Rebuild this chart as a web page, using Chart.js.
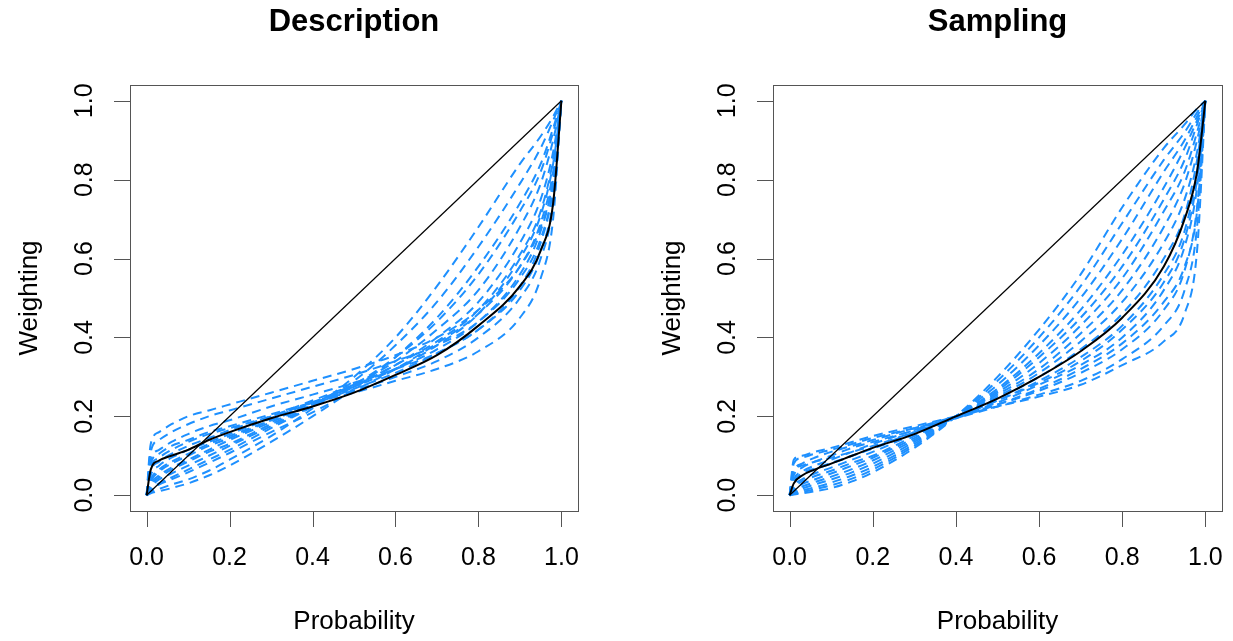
<!DOCTYPE html>
<html>
<head>
<meta charset="utf-8">
<script src="https://cdn.jsdelivr.net/npm/chart.js@4/dist/chart.umd.min.js"></script>
<style>
  html, body { margin: 0; padding: 0; background: #fff; }
  #wrap { position: relative; width: 1233px; height: 641px; }
  canvas { position: absolute; top: 0; }
</style>
</head>
<body>
<div id="wrap">
  <canvas id="desc" width="616" height="641" style="left:0px"></canvas>
  <canvas id="samp" width="617" height="641" style="left:616px"></canvas>
</div>
<script>
"use strict";

// probability grid that every curve is read at
const probs = [0, 0.01, 0.03, 0.06, 0.1, 0.15, 0.2, 0.3, 0.4, 0.5, 0.6, 0.7, 0.8, 0.9, 0.95, 0.98, 1];
const tickValues = [0, 0.2, 0.4, 0.6, 0.8, 1];
const tickLabels = ["0.0", "0.2", "0.4", "0.6", "0.8", "1.0"];
const diagX = [0, 1];
const diagY = [0, 1];

// Description panel
const descMean = [0, 0.065, 0.088, 0.10, 0.115, 0.14, 0.16, 0.195, 0.225, 0.26, 0.305, 0.355, 0.43, 0.53, 0.62, 0.74, 1];
const descCurves = [
    [0, 0.13, 0.16, 0.18, 0.20, 0.215, 0.23, 0.26, 0.29, 0.32, 0.355, 0.40, 0.47, 0.58, 0.68, 0.80, 1],
    [0, 0.11, 0.14, 0.16, 0.18, 0.20, 0.215, 0.245, 0.275, 0.305, 0.34, 0.38, 0.44, 0.55, 0.65, 0.78, 1],
    [0, 0.09, 0.115, 0.135, 0.155, 0.175, 0.19, 0.225, 0.255, 0.285, 0.32, 0.36, 0.42, 0.52, 0.62, 0.75, 1],
    [0, 0.08, 0.105, 0.125, 0.14, 0.16, 0.175, 0.205, 0.235, 0.26, 0.29, 0.32, 0.365, 0.45, 0.55, 0.70, 1],
    [0, 0.07, 0.095, 0.115, 0.135, 0.155, 0.17, 0.20, 0.235, 0.265, 0.30, 0.34, 0.40, 0.50, 0.60, 0.74, 1],
    [0, 0.06, 0.085, 0.105, 0.125, 0.145, 0.165, 0.20, 0.24, 0.28, 0.32, 0.37, 0.44, 0.56, 0.67, 0.80, 1],
    [0, 0.05, 0.075, 0.095, 0.115, 0.135, 0.155, 0.195, 0.235, 0.275, 0.32, 0.38, 0.46, 0.60, 0.71, 0.84, 1],
    [0, 0.04, 0.065, 0.085, 0.105, 0.13, 0.15, 0.19, 0.23, 0.27, 0.31, 0.36, 0.42, 0.53, 0.64, 0.78, 1],
    [0, 0.035, 0.06, 0.08, 0.10, 0.125, 0.145, 0.19, 0.235, 0.28, 0.33, 0.40, 0.49, 0.64, 0.75, 0.87, 1],
    [0, 0.03, 0.05, 0.07, 0.09, 0.115, 0.14, 0.185, 0.23, 0.28, 0.34, 0.42, 0.52, 0.68, 0.79, 0.90, 1],
    [0, 0.025, 0.045, 0.065, 0.085, 0.11, 0.13, 0.18, 0.225, 0.275, 0.33, 0.39, 0.47, 0.61, 0.72, 0.85, 1],
    [0, 0.02, 0.04, 0.055, 0.075, 0.10, 0.125, 0.175, 0.225, 0.28, 0.35, 0.44, 0.56, 0.72, 0.82, 0.92, 1],
    [0, 0.015, 0.03, 0.045, 0.065, 0.09, 0.115, 0.17, 0.225, 0.29, 0.38, 0.49, 0.63, 0.79, 0.88, 0.95, 1],
    [0, 0.008, 0.016, 0.027, 0.04, 0.062, 0.09, 0.15, 0.22, 0.30, 0.40, 0.53, 0.68, 0.84, 0.91, 0.96, 1],
    [0, 0.005, 0.01, 0.018, 0.03, 0.05, 0.075, 0.135, 0.20, 0.27, 0.35, 0.45, 0.58, 0.74, 0.84, 0.93, 1],
    [0, 0.012, 0.027, 0.04, 0.058, 0.082, 0.107, 0.16, 0.21, 0.265, 0.32, 0.385, 0.46, 0.58, 0.69, 0.82, 1]
];

// Sampling panel
const sampMean = [0, 0.03, 0.05, 0.065, 0.08, 0.10, 0.12, 0.155, 0.20, 0.245, 0.30, 0.365, 0.45, 0.58, 0.70, 0.82, 1];
const sampCurves = [
    [0, 0.09, 0.10, 0.11, 0.12, 0.135, 0.15, 0.175, 0.20, 0.225, 0.25, 0.28, 0.33, 0.39, 0.46, 0.62, 1],
    [0, 0.08, 0.095, 0.105, 0.115, 0.13, 0.145, 0.17, 0.195, 0.225, 0.255, 0.29, 0.345, 0.43, 0.52, 0.68, 1],
    [0, 0.06, 0.08, 0.095, 0.11, 0.125, 0.14, 0.17, 0.20, 0.23, 0.265, 0.31, 0.37, 0.47, 0.57, 0.73, 1],
    [0, 0.05, 0.07, 0.085, 0.10, 0.12, 0.135, 0.165, 0.20, 0.235, 0.28, 0.33, 0.40, 0.52, 0.63, 0.78, 1],
    [0, 0.04, 0.06, 0.075, 0.09, 0.11, 0.13, 0.165, 0.20, 0.24, 0.29, 0.35, 0.43, 0.56, 0.67, 0.82, 1],
    [0, 0.03, 0.05, 0.065, 0.08, 0.10, 0.12, 0.16, 0.20, 0.245, 0.30, 0.37, 0.46, 0.60, 0.71, 0.85, 1],
    [0, 0.025, 0.04, 0.055, 0.07, 0.09, 0.11, 0.155, 0.20, 0.25, 0.31, 0.39, 0.49, 0.64, 0.75, 0.87, 1],
    [0, 0.02, 0.035, 0.048, 0.062, 0.082, 0.10, 0.15, 0.20, 0.255, 0.32, 0.41, 0.52, 0.68, 0.79, 0.90, 1],
    [0, 0.015, 0.028, 0.04, 0.055, 0.075, 0.095, 0.145, 0.20, 0.26, 0.335, 0.43, 0.55, 0.72, 0.82, 0.92, 1],
    [0, 0.012, 0.022, 0.033, 0.047, 0.066, 0.088, 0.14, 0.20, 0.265, 0.35, 0.45, 0.58, 0.75, 0.85, 0.94, 1],
    [0, 0.008, 0.017, 0.027, 0.04, 0.058, 0.08, 0.135, 0.20, 0.27, 0.36, 0.47, 0.61, 0.78, 0.88, 0.95, 1],
    [0, 0.005, 0.012, 0.02, 0.032, 0.05, 0.072, 0.13, 0.20, 0.28, 0.38, 0.50, 0.65, 0.82, 0.90, 0.96, 1],
    [0, 0.003, 0.008, 0.015, 0.025, 0.042, 0.065, 0.125, 0.20, 0.29, 0.40, 0.53, 0.69, 0.85, 0.92, 0.97, 1],
    [0, 0.002, 0.005, 0.01, 0.018, 0.035, 0.058, 0.12, 0.20, 0.30, 0.42, 0.56, 0.73, 0.88, 0.94, 0.98, 1],
    [0, 0.06, 0.075, 0.085, 0.095, 0.11, 0.125, 0.16, 0.195, 0.23, 0.27, 0.32, 0.385, 0.49, 0.58, 0.72, 1],
    [0, 0.035, 0.055, 0.068, 0.082, 0.10, 0.118, 0.158, 0.198, 0.24, 0.285, 0.34, 0.42, 0.54, 0.65, 0.80, 1]
];

const FONT = "'Liberation Sans', Arial, sans-serif";

function toPoints(xs, ys) {
    return xs.map((x, i) => ({ x: x, y: ys[i] }));
}

// R-style box, axes, labels and title
const rFrame = {
    id: "rFrame",
    afterDraw(chart, args, opts) {
        const ctx = chart.ctx;
        const area = chart.chartArea;
        const xs = chart.scales.x;
        const ys = chart.scales.y;
        ctx.save();
        ctx.strokeStyle = "#555";
        ctx.lineWidth = 1;
        ctx.strokeRect(Math.round(area.left) + 0.5, Math.round(area.top) + 0.5,
            Math.round(area.right - area.left), Math.round(area.bottom - area.top));

        ctx.fillStyle = "#000";
        ctx.font = "25px " + FONT;
        ctx.beginPath();
        tickValues.forEach(v => {
            const px = Math.round(xs.getPixelForValue(v)) + 0.5;
            ctx.moveTo(px, area.bottom);
            ctx.lineTo(px, area.bottom + 16);
            const py = Math.round(ys.getPixelForValue(v)) + 0.5;
            ctx.moveTo(area.left, py);
            ctx.lineTo(area.left - 16, py);
        });
        ctx.stroke();

        ctx.textAlign = "center";
        ctx.textBaseline = "middle";
        tickValues.forEach((v, i) => {
            ctx.fillText(tickLabels[i], xs.getPixelForValue(v), area.bottom + 47);
            ctx.save();
            ctx.translate(area.left - 45, ys.getPixelForValue(v));
            ctx.rotate(-Math.PI / 2);
            ctx.fillText(tickLabels[i], 0, 0);
            ctx.restore();
        });

        ctx.font = "26px " + FONT;
        ctx.fillText("Probability", (area.left + area.right) / 2, area.bottom + 111);
        ctx.save();
        ctx.translate(area.left - 100, (area.top + area.bottom) / 2);
        ctx.rotate(-Math.PI / 2);
        ctx.fillText("Weighting", 0, 0);
        ctx.restore();

        ctx.font = "bold 31px " + FONT;
        ctx.fillText(opts.title, (area.left + area.right) / 2, 22);
        ctx.restore();
    }
};

function makeChart(canvasId, title, curves, mean, pad) {
    let datasets = [];
    datasets.push({
        data: toPoints(probs, mean),
        borderColor: "#000",
        borderWidth: 2,
        order: 0
    });
    datasets.push({
        data: toPoints(diagX, diagY),
        borderColor: "#000",
        borderWidth: 1.2,
        cubicInterpolationMode: "default",
        tension: 0,
        order: 1
    });
    curves.forEach(curve => {
        datasets.push({
            data: toPoints(probs, curve),
            borderColor: "#1E90FF",
            borderWidth: 2,
            borderDash: [9, 6],
            order: 2
        });
    });

    return new Chart(document.getElementById(canvasId), {
        type: "scatter",
        data: { datasets: datasets },
        options: {
            responsive: false,
            animation: false,
            devicePixelRatio: 1,
            showLine: true,
            elements: {
                point: { radius: 0 },
                line: { cubicInterpolationMode: "monotone", fill: false }
            },
            layout: { padding: pad },
            scales: {
                x: { type: "linear", min: -0.04, max: 1.04, display: false },
                y: { type: "linear", min: -0.04, max: 1.04, display: false }
            },
            plugins: {
                legend: { display: false },
                tooltip: { enabled: false },
                rFrame: { title: title }
            }
        },
        plugins: [rFrame]
    });
}

makeChart("desc", "Description", descCurves, descMean, { left: 130, right: 38, top: 85, bottom: 130 });
makeChart("samp", "Sampling", sampCurves, sampMean, { left: 157, right: 11, top: 85, bottom: 130 });
</script>
</body>
</html>
